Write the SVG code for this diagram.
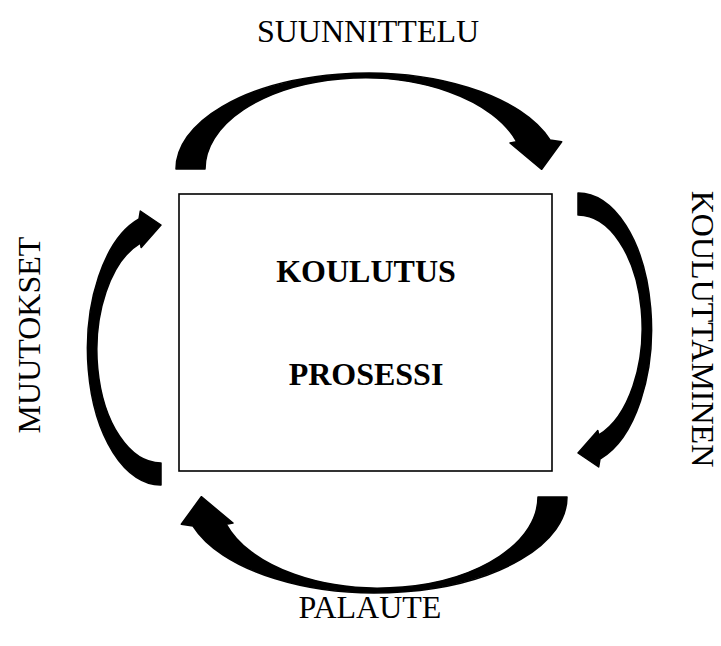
<svg xmlns="http://www.w3.org/2000/svg" width="721" height="646" viewBox="0 0 721 646">
<style>
.arrow{fill:#000;stroke:#000;stroke-width:1.5;stroke-linejoin:round}
.box{fill:#fff;stroke:#000;stroke-width:1.6}
.lbl{font-family:"Liberation Serif","Times New Roman",serif;font-size:32px;fill:#000;text-anchor:middle}
.title{font-family:"Liberation Serif","Times New Roman",serif;font-size:32px;font-weight:bold;fill:#000;text-anchor:middle}
</style>
<rect width="721" height="646" fill="#fff"/>
<g id="process">
<rect class="box" x="179" y="194" width="373" height="277"/>
<text class="title" x="366" y="282">KOULUTUS</text>
<text class="title" x="366" y="385">PROSESSI</text>
</g>
<g id="connectors">
<path id="arrow-top" class="arrow" d="M176 169 A191.5 96 0 0 1 550 140 L561.7 141.7 L541.7 169.3 L510 143 L516.7 141.7 A159.5 91 0 0 0 205 169 Z"/>
<path id="arrow-right" class="arrow" d="M578 193 A73 136 0 0 1 600 459 L598.7 467 L578 453 L597.8 430.5 L598.7 435 A64 113 0 0 0 578 215 Z"/>
<path id="arrow-bottom" class="arrow" transform="rotate(180 371.5 333)" d="M176 169 A191.5 96 0 0 1 550 140 L561.7 141.7 L541.7 169.3 L510 143 L516.7 141.7 A159.5 91 0 0 0 205 169 Z"/>
<path id="arrow-left" class="arrow" transform="rotate(180 369.5 339)" d="M578 193 A73 136 0 0 1 600 459 L598.7 467 L578 453 L597.8 430.5 L598.7 435 A64 113 0 0 0 578 215 Z"/>
</g>
<g id="label-top"><text class="lbl" x="368" y="42">SUUNNITTELU</text></g>
<g id="label-right"><text class="lbl" transform="translate(692 329) rotate(90)">KOULUTTAMINEN</text></g>
<g id="label-bottom"><text class="lbl" x="370" y="618">PALAUTE</text></g>
<g id="label-left"><text class="lbl" transform="translate(40 335) rotate(-90)">MUUTOKSET</text></g>
</svg>
